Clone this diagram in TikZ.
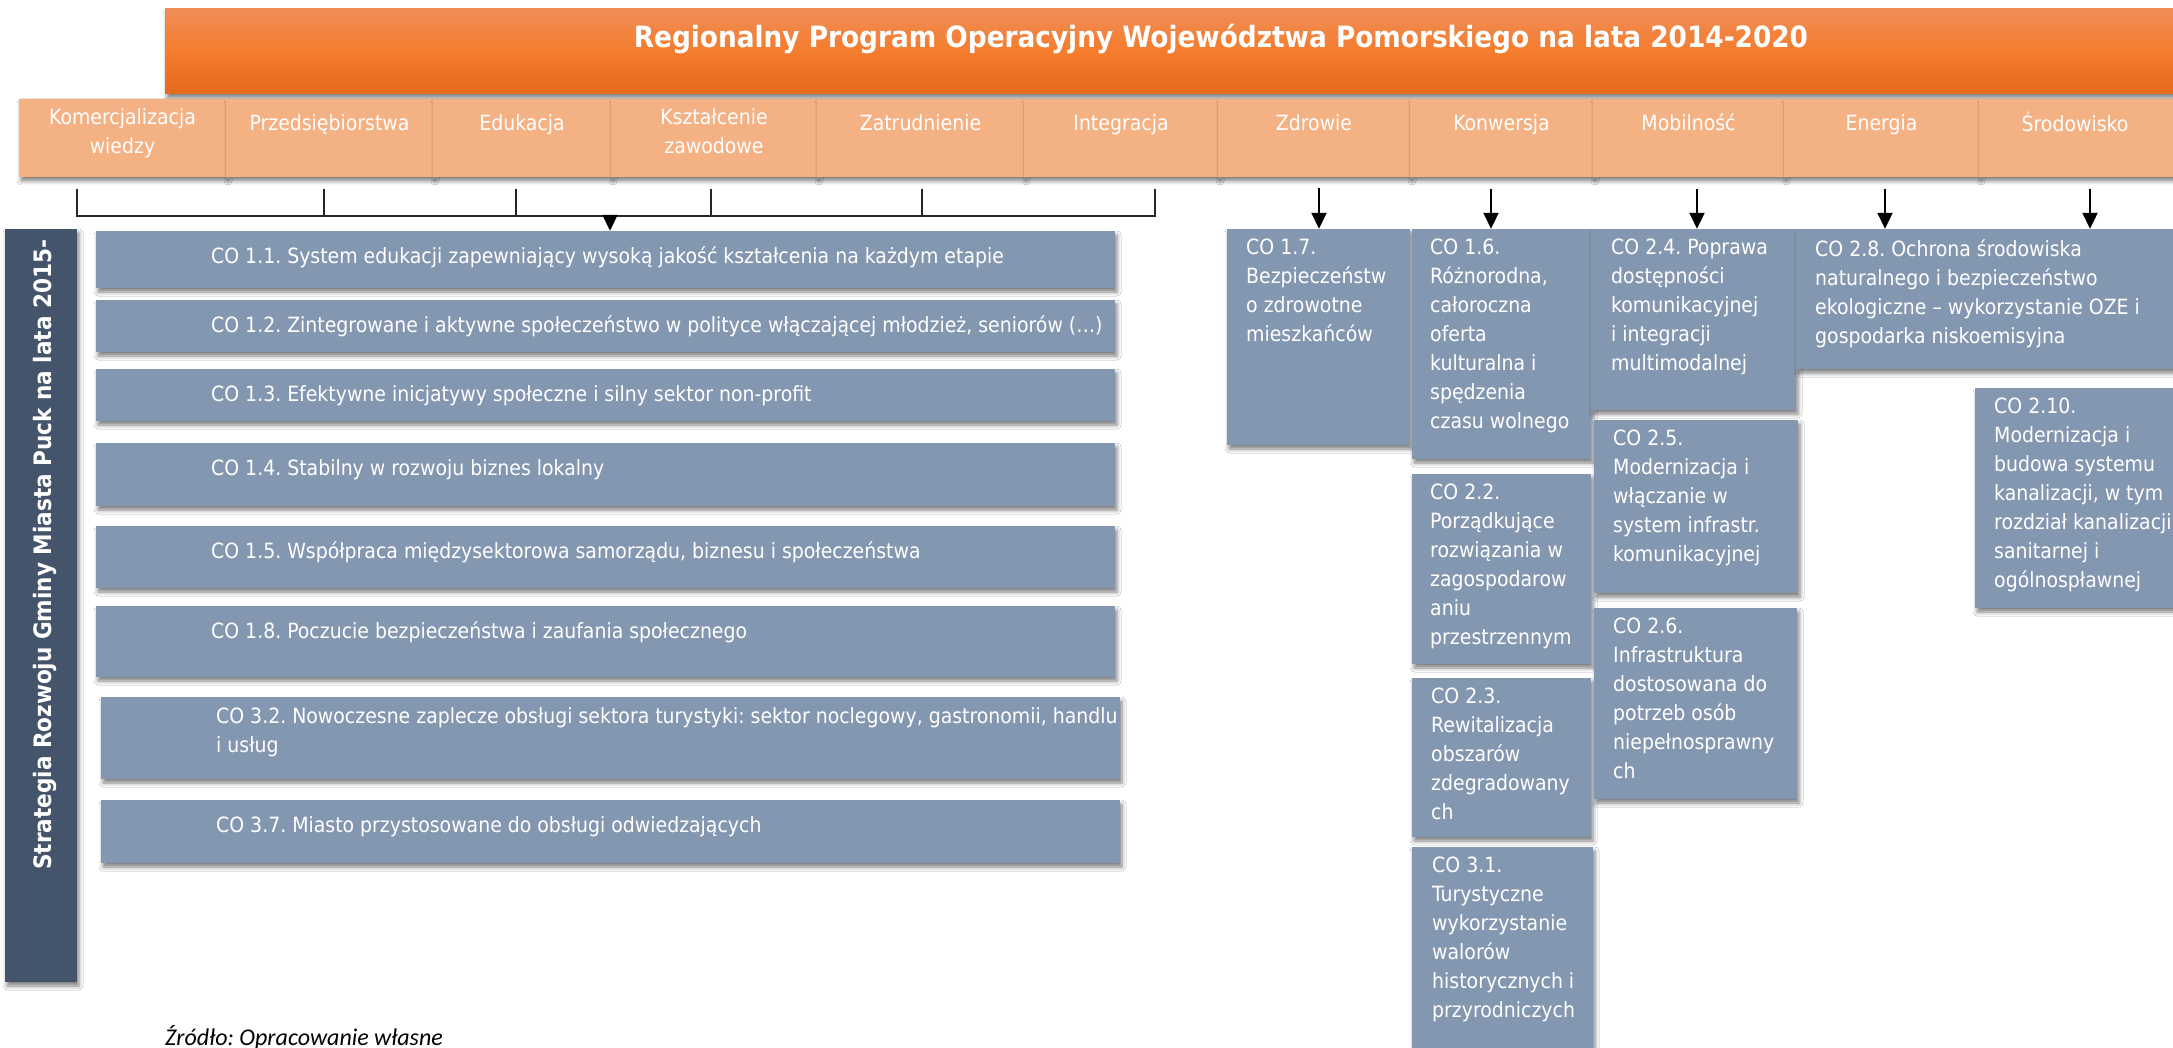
\documentclass[tikz,border=0pt]{standalone}
\usepackage{fontspec}
\setmainfont{DejaVu Sans Condensed}
\newfontfamily\srcfont{Carlito}
\usepackage{xcolor}
\usetikzlibrary{arrows.meta}
\usetikzlibrary{fit, shadows.blur}
\definecolor{myorange}{RGB}{244,124,44}
\definecolor{myorangetop}{RGB}{240,141,88}
\definecolor{myorangebot}{RGB}{229,106,27}
\definecolor{mypeach}{RGB}{244,177,131}
\definecolor{myblue}{RGB}{132,151,176}
\definecolor{myslate}{RGB}{68,84,106}
\frenchspacing

\begin{document}
\begin{tikzpicture}[x=1pt, y=-1pt,
shad/.style={blur shadow={shadow xshift=2pt, shadow yshift=-4pt, shadow opacity=50, shadow blur radius=4pt}},
catbox/.style={inner sep=0pt, fill=mypeach, shad},
cobox/.style={inner sep=0pt, fill=myblue, shad},
cattext/.style={text=white, inner sep=0pt, anchor=north, align=center, font=\fontsize{21}{29}\selectfont, execute at begin node=\rule{0pt}{22pt}},
cotext/.style={text=white, inner sep=0pt, anchor=north west, align=left, font=\fontsize{21}{29}\selectfont, execute at begin node=\rule{0pt}{22pt}},
arr/.style={-{Triangle[width=15pt,length=16pt]}, line width=2pt},
bracket/.style={line width=1.8pt, draw=black!85}]
\path[fill=white, use as bounding box] (0,0) rectangle (2173,1048);

%header
\node[fit={(165,9) (2290,94)}, inner sep=0pt, top color=myorangetop, bottom color=myorangebot, middle color=myorange, shad] (rpo) {};
\node[anchor=base, text=white, font=\bfseries\fontsize{29.3}{34}\selectfont] (rpot) at (1221,48) {Regionalny Program Operacyjny Województwa Pomorskiego na lata 2014-2020};

%categories
\node[catbox, fit={(19,99) (226,177)}] (kom) {};
\node[catbox, fit={(226,99) (433,177)}] (prz) {};
\node[catbox, fit={(433,99) (611,177)}] (edu) {};
\node[catbox, fit={(611,99) (817,177)}] (ksz) {};
\node[catbox, fit={(817,99) (1024,177)}] (zat) {};
\node[catbox, fit={(1024,99) (1218,177)}] (int) {};
\node[catbox, fit={(1218,99) (1410,177)}] (zdr) {};
\node[catbox, fit={(1410,99) (1593,177)}] (kon) {};
\node[catbox, fit={(1593,99) (1784,177)}] (mob) {};
\node[catbox, fit={(1784,99) (1979,177)}] (ene) {};
\node[catbox, fit={(1979,99) (2200,177)}] (sro) {};
\node[cattext] (komt) at (kom.north) [yshift=-10pt] {Komercjalizacja\\wiedzy};
\node[cattext] (przt) at (prz.north) [yshift=-10pt] {Przedsiębiorstwa};
\node[cattext] (edut) at (edu.north) [yshift=-10pt] {Edukacja};
\node[cattext] (kszt) at (ksz.north) [yshift=-10pt] {Kształcenie\\zawodowe};
\node[cattext] (zatt) at (zat.north) [yshift=-10pt] {Zatrudnienie};
\node[cattext] (intt) at (int.north) [yshift=-10pt] {Integracja};
\node[cattext] (zdrt) at (zdr.north) [yshift=-10pt] {Zdrowie};
\node[cattext] (kont) at (kon.north) [yshift=-10pt] {Konwersja};
\node[cattext] (mobt) at (mob.north) [yshift=-10pt] {Mobilność};
\node[cattext] (enet) at (ene.north) [yshift=-10pt] {Energia};
\node[cattext] (srot) at (2075,109) {Środowisko};

%left bar
\node[fit={(5,229) (77,982)}, inner sep=0pt, fill=myslate, shad] (srg) {};
\node[rotate=90, anchor=base west, text=white, inner sep=0pt, font=\bfseries\fontsize{24}{28}\selectfont] (srgt) at (51,870) {Strategia Rozwoju Gminy Miasta Puck na lata 2015-};

%left column
\node[cobox, fit={(96,231) (1115,288)}] (co11) {};
\node[cotext] (co11t) at (211,241) {CO 1.1. System edukacji zapewniający wysoką jakość kształcenia na każdym etapie};
\node[cobox, fit={(96,300) (1115,352)}] (co12) {};
\node[cotext] (co12t) at (211,310) {CO 1.2. Zintegrowane i aktywne społeczeństwo w polityce włączającej młodzież, seniorów (…)};
\node[cobox, fit={(96,369) (1115,421)}] (co13) {};
\node[cotext] (co13t) at (211,379) {CO 1.3. Efektywne inicjatywy społeczne i silny sektor non-profit};
\node[cobox, fit={(96,443) (1115,506)}] (co14) {};
\node[cotext] (co14t) at (211,453) {CO 1.4. Stabilny w rozwoju biznes lokalny};
\node[cobox, fit={(96,526) (1115,588)}] (co15) {};
\node[cotext] (co15t) at (211,536) {CO 1.5. Współpraca międzysektorowa samorządu, biznesu i społeczeństwa};
\node[cobox, fit={(96,606) (1115,677)}] (co18) {};
\node[cotext] (co18t) at (211,616) {CO 1.8. Poczucie bezpieczeństwa i zaufania społecznego};
\node[cobox, fit={(101,697) (1120,779)}] (co32) {};
\node[cotext] (co32t) at (216,707) {CO 3.2. Nowoczesne zaplecze obsługi sektora turystyki: sektor noclegowy, gastronomii, handlu\\i usług};
\node[cobox, fit={(101,800) (1120,863)}] (co37) {};
\node[cotext] (co37t) at (216,810) {CO 3.7. Miasto przystosowane do obsługi odwiedzających};

%bracket
\coordinate (b1) at (77,189);
\coordinate (b6) at (1155,189);
\coordinate (bm) at (610,216);
\draw[bracket] (b1) -- ++(0,27) -| (b6);
\foreach \x in {324,516,711,922}
  \draw[bracket] (\x,189) -- ++(0,27);
\draw[arr] (bm) -- (bm |- co11.north);

%right columns
\node[cobox, fit={(1227,229) (1410,445)}] (co17) {};
\node[cotext] (co17t) at (1246,239) {CO 1.7.\\Bezpieczeństw\\o zdrowotne\\mieszkańców};
\node[cobox, fit={(1412,229) (1591,459)}] (co16) {};
\node[cotext] (co16t) at (1430,239) {CO 1.6.\\Różnorodna,\\całoroczna\\oferta\\kulturalna i\\spędzenia\\czasu wolnego};
\node[cobox, fit={(1412,474) (1591,664)}] (co22) {};
\begin{scope}
\clip (1412,474) rectangle (1591,652);
\node[cotext] (co22t) at (1430,484) {CO 2.2.\\Porządkujące\\rozwiązania w\\zagospodarow\\aniu\\przestrzennym};
\end{scope}
\node[cobox, fit={(1412,678) (1591,837)}] (co23) {};
\node[cotext] (co23t) at (1431,688) {CO 2.3.\\Rewitalizacja\\obszarów\\zdegradowany\\ch};
\node[cobox, fit={(1412,847) (1593,1070)}] (co31) {};
\node[cotext] (co31t) at (1432,857) {CO 3.1.\\Turystyczne\\wykorzystanie\\walorów\\historycznych i\\przyrodniczych};
\node[cobox, fit={(1591,229) (1796,410)}] (co24) {};
\node[cotext] (co24t) at (1611,239) {CO 2.4. Poprawa\\dostępności\\komunikacyjnej\\i integracji\\multimodalnej};
\node[cobox, fit={(1594,420) (1798,593)}] (co25) {};
\node[cotext] (co25t) at (1613,430) {CO 2.5.\\Modernizacja i\\włączanie w\\system infrastr.\\komunikacyjnej};
\node[cobox, fit={(1594,608) (1797,799)}] (co26) {};
\node[cotext] (co26t) at (1613,618) {CO 2.6.\\Infrastruktura\\dostosowana do\\potrzeb osób\\niepełnosprawny\\ch};
\node[cobox, fit={(1796,229) (2200,369)}] (co28) {};
\node[cotext] (co28t) at (1815,239) {CO 2.8. Ochrona środowiska\\naturalnego i bezpieczeństwo\\ekologiczne – wykorzystanie OZE i\\gospodarka niskoemisyjna};
\node[cobox, fit={(1975,388) (2200,608)}] (co210) {};
\node[cotext] (co210t) at (1994,398) {CO 2.10.\\Modernizacja i\\budowa systemu\\kanalizacji, w tym\\rozdział kanalizacji\\sanitarnej i\\ogólnospławnej};

%arrows
\coordinate (azd) at (1319,188);
\coordinate (ako) at (1491,189);
\coordinate (amo) at (1697,189);
\coordinate (aen) at (1885,189);
\coordinate (asr) at (2090,189);
\draw[arr] (azd) -- (azd |- co17.north);
\draw[arr] (ako) -- (ako |- co16.north);
\draw[arr] (amo) -- (amo |- co24.north);
\draw[arr] (aen) -- (aen |- co28.north);
\draw[arr] (asr) -- (asr |- co28.north);

%source
\node[anchor=base west, inner sep=0pt, font=\srcfont\itshape\fontsize{24}{28}\selectfont] (src) at (165,1045) {Źródło: Opracowanie własne};
\end{tikzpicture}
\end{document}
